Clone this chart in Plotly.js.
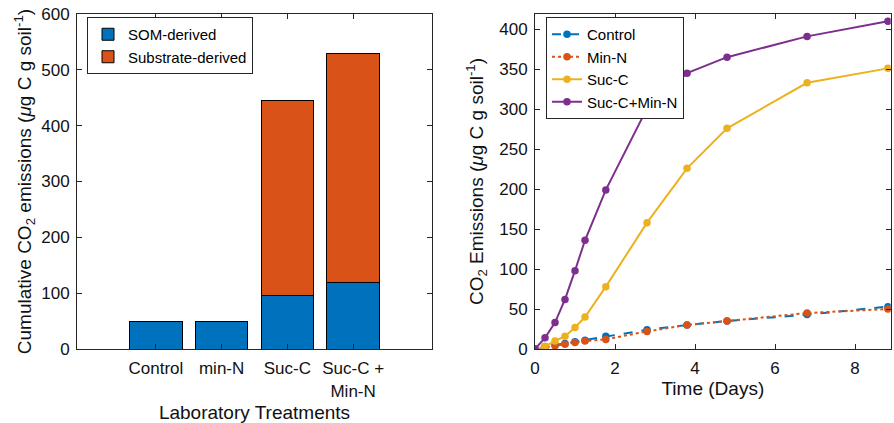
<!DOCTYPE html>
<html>
<head>
<meta charset="utf-8">
<script src="https://cdn.plot.ly/plotly-3.0.1.min.js"></script>
<style>html,body{margin:0;padding:0;background:#fff}#chart{width:894px;height:423px}</style>
</head>
<body>
<div id="chart"></div>
<script>
// Left panel: cumulative emissions by treatment
const treatments = ["Control", "min-N", "Suc-C", "Suc-C +<br>Min-N"];
const treatmentPos = [1, 2, 3, 4];
const somDerived = [50, 49, 96, 120];
const substrateDerived = [0, 0, 349, 410];

// Right panel: emissions time series
const timeDays = [0, 0.25, 0.5, 0.75, 1.0, 1.25, 1.77, 2.8, 3.8, 4.8, 6.8, 8.82];
const controlSeries = [0, 3, 5, 7, 9, 11, 16, 24, 30, 35, 43, 53];
const minNSeries = [0, 2, 4, 6, 8, 10, 12, 22, 30, 35, 45, 50];
const sucCSeries = [0, 3, 10, 16, 27, 40, 78, 158, 226, 276, 333, 351];
const sucCMinNSeries = [0, 14, 33, 62, 98, 136, 199, 301, 345, 365, 391, 410];

const C = {blue: "#0072BD", orange: "#D95319", yellow: "#EDB120", purple: "#7E2F8E"};
const axCol = "#262626";
const FONT = "Liberation Sans, Arial, Helvetica, sans-serif";

const traces = [
  {type: "bar", x: treatmentPos, y: somDerived, name: "SOM-derived", width: 0.8,
   marker: {color: C.blue, line: {color: "#000", width: 1}}, xaxis: "x", yaxis: "y", legend: "legend"},
  {type: "bar", x: treatmentPos, y: substrateDerived, name: "Substrate-derived", width: 0.8,
   marker: {color: C.orange, line: {color: "#000", width: 1}}, xaxis: "x", yaxis: "y", legend: "legend"},
  {type: "scatter", mode: "lines+markers", x: timeDays, y: controlSeries, name: "Control",
   line: {color: C.blue, width: 2, dash: "dash"}, marker: {color: C.blue, size: 7.5},
   xaxis: "x2", yaxis: "y2", legend: "legend2"},
  {type: "scatter", mode: "lines+markers", x: timeDays, y: minNSeries, name: "Min-N",
   line: {color: C.orange, width: 2, dash: "dot"}, marker: {color: C.orange, size: 7.5},
   xaxis: "x2", yaxis: "y2", legend: "legend2"},
  {type: "scatter", mode: "lines+markers", x: timeDays, y: sucCSeries, name: "Suc-C",
   line: {color: C.yellow, width: 2}, marker: {color: C.yellow, size: 7.5},
   xaxis: "x2", yaxis: "y2", legend: "legend2"},
  {type: "scatter", mode: "lines+markers", x: timeDays, y: sucCMinNSeries, name: "Suc-C+Min-N",
   line: {color: C.purple, width: 2}, marker: {color: C.purple, size: 7.5},
   xaxis: "x2", yaxis: "y2", legend: "legend2"}
];

const axisBase = {
  showline: true, linecolor: axCol, linewidth: 1, mirror: "ticks",
  ticks: "inside", ticklen: 5, tickcolor: axCol, tickwidth: 1,
  showgrid: false, zeroline: false, automargin: false,
  tickfont: {family: FONT, size: 17, color: "#111"},
  ticklabelstandoff: 3,
  fixedrange: true
};
const titleFont = {family: FONT, size: 19, color: "#111"};

const layout = {
  width: 894, height: 423,
  margin: {l: 0, r: 0, t: 0, b: 0},
  paper_bgcolor: "#fff", plot_bgcolor: "#fff",
  font: {family: FONT, color: "#111"},
  barmode: "stack",
  xaxis: Object.assign({}, axisBase, {
    domain: [77/894, 432/894], range: [-0.2, 5.2],
    tickmode: "array", tickvals: treatmentPos, ticktext: treatments,
    ticklabelstandoff: 4,
    title: {text: "Laboratory Treatments", font: titleFont, standoff: 6},
    anchor: "y"
  }),
  yaxis: Object.assign({}, axisBase, {
    domain: [1 - 349/423, 1 - 14/423], range: [0, 600], dtick: 100,
    title: {text: "Cumulative CO<sub>2</sub> emissions (<i>μ</i>g C g soil<sup>-1</sup>)", font: titleFont, standoff: 4},
    anchor: "x"
  }),
  xaxis2: Object.assign({}, axisBase, {
    domain: [535/894, 890.7/894], range: [0, 8.89], dtick: 2,
    ticklabelstandoff: 4,
    title: {text: "Time (Days)", font: titleFont, standoff: 3},
    anchor: "y2"
  }),
  yaxis2: Object.assign({}, axisBase, {
    domain: [1 - 349/423, 1 - 14/423], range: [0, 419], dtick: 50,
    title: {text: "CO<sub>2</sub> Emissions (<i>μ</i>g C g soil<sup>-1</sup>)", font: titleFont, standoff: 10},
    anchor: "x2"
  }),
  legend: {
    x: 87/894, y: 1 - 17/423, xanchor: "left", yanchor: "top",
    bgcolor: "#fff", bordercolor: axCol, borderwidth: 1,
    font: {family: FONT, size: 15, color: "#000"}, tracegroupgap: 0, traceorder: "normal"
  },
  legend2: {
    x: 546/894, y: 1 - 17/423, xanchor: "left", yanchor: "top",
    bgcolor: "#fff", bordercolor: axCol, borderwidth: 1,
    font: {family: FONT, size: 15, color: "#000"}, tracegroupgap: 0, itemwidth: 30
  },
  showlegend: true
};

Plotly.newPlot("chart", traces, layout, {staticPlot: true, displayModeBar: false});
</script>
</body>
</html>
